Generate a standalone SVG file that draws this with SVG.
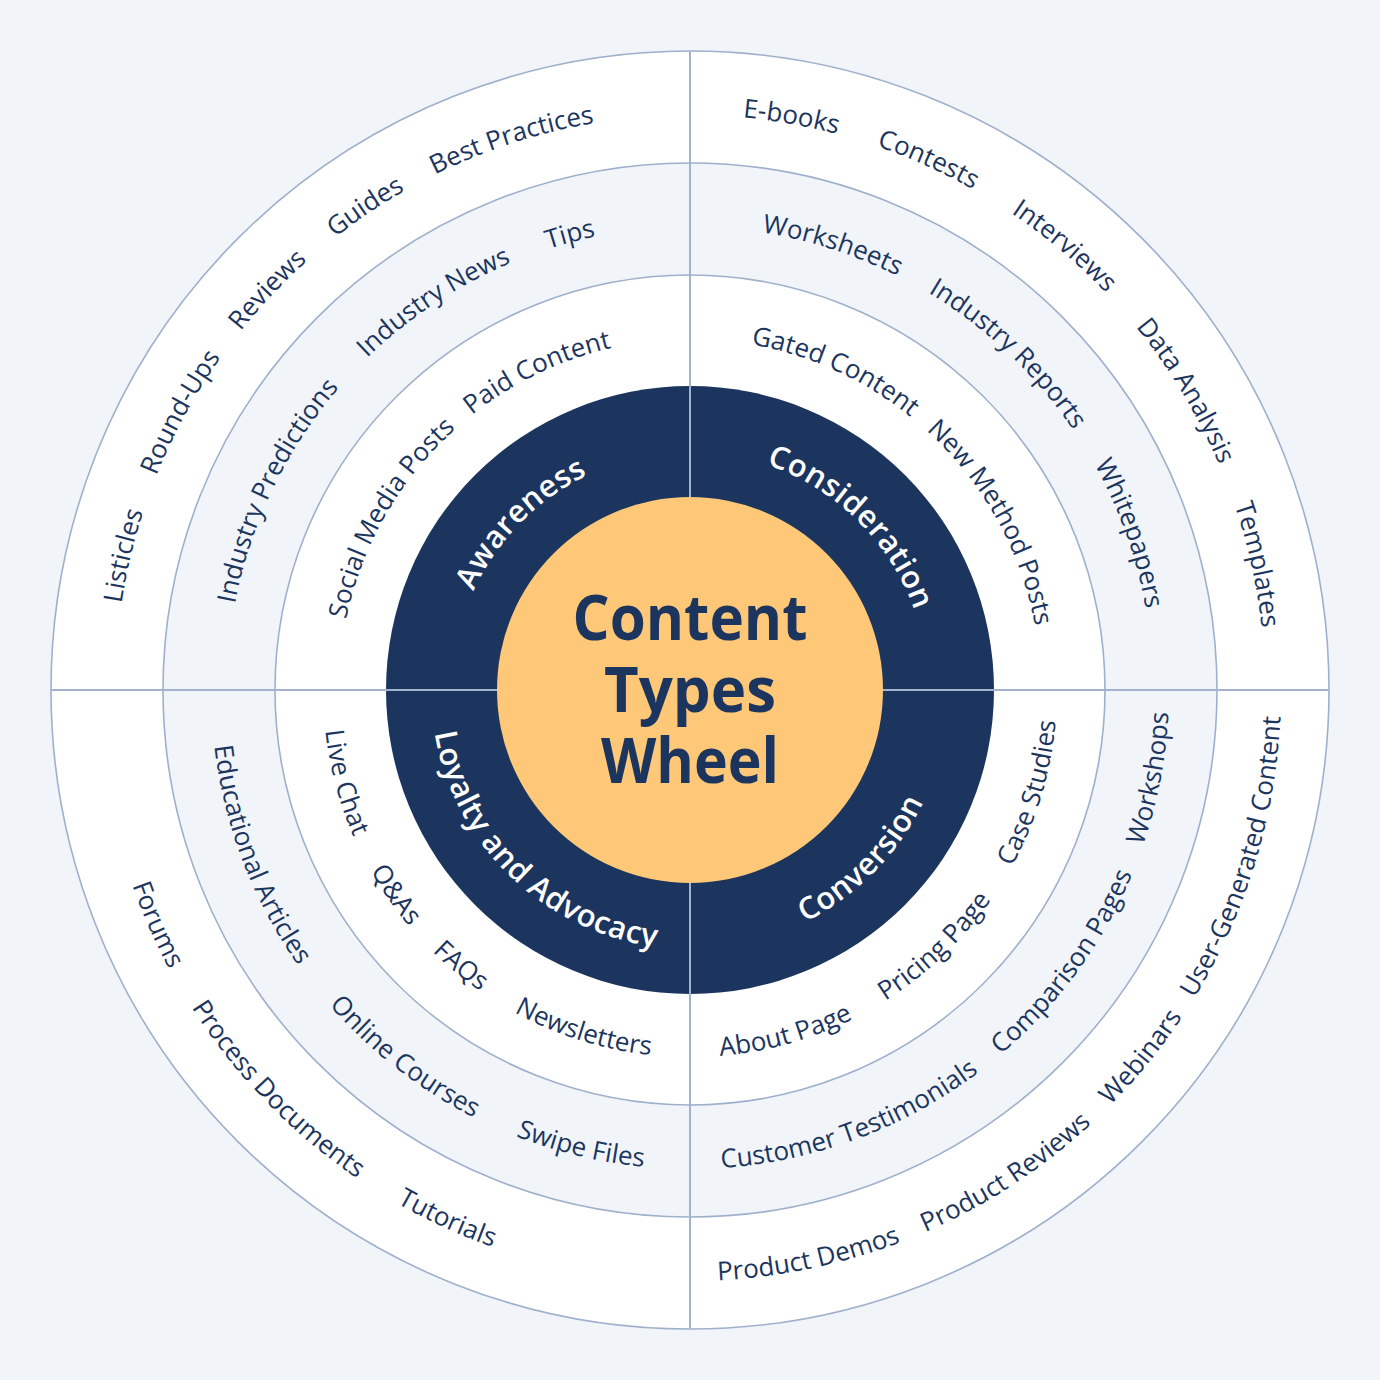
<svg xmlns="http://www.w3.org/2000/svg" width="1380" height="1380" viewBox="0 0 1380 1380">
<style>
.ring{stroke:#9fb0cc;stroke-width:1.6}
.div{stroke:#a3b3ce;stroke-width:2}
.lbl{font-family:"Open Sans","Noto Sans","Liberation Sans",sans-serif;font-size:26px;fill:#1c355e;text-anchor:middle}
.stage{font-family:"Open Sans","Noto Sans","Liberation Sans",sans-serif;font-size:31px;font-weight:600;fill:#ffffff;text-anchor:middle;letter-spacing:0.4px}
.title{font-family:"Open Sans","Noto Sans","Liberation Sans",sans-serif;font-size:63px;font-weight:700;fill:#1c355e;text-anchor:middle}
</style>
<defs>
<path id="tOuter" d="M115,690 A575,575 0 1 1 1265,690 A575,575 0 1 1 115,690"/>
<path id="tMid" d="M227,690 A463,463 0 1 1 1153,690 A463,463 0 1 1 227,690"/>
<path id="tIn" d="M339,690 A351,351 0 1 1 1041,690 A351,351 0 1 1 339,690"/>
<path id="tDark" d="M452,690 A238,238 0 1 1 928,690 A238,238 0 1 1 452,690"/>
<path id="bOuter" d="M99,690 A591,591 0 1 0 1281,690 A591,591 0 1 0 99,690"/>
<path id="bMid" d="M211,690 A479,479 0 1 0 1169,690 A479,479 0 1 0 211,690"/>
<path id="bIn" d="M323,690 A367,367 0 1 0 1057,690 A367,367 0 1 0 323,690"/>
<path id="bDark" d="M431,690 A259,259 0 1 0 949,690 A259,259 0 1 0 431,690"/>
</defs>
<rect x="0" y="0" width="1380" height="1380" fill="#f1f5f9"/>
<g id="rings">
<circle cx="690" cy="690" r="639" fill="#ffffff" class="ring"/>
<circle cx="690" cy="690" r="527" fill="#f1f5f9" class="ring"/>
<circle cx="690" cy="690" r="415" fill="#ffffff" class="ring"/>
<circle cx="690" cy="690" r="304" fill="#1c355e"/>
</g>
<g id="connectors">
<line x1="51" y1="690" x2="1329" y2="690" class="div"/>
<line x1="690" y1="51" x2="690" y2="1329" class="div"/>
</g>
<g id="center">
<circle cx="690" cy="690" r="193" fill="#fec878"/>
<text class="title" x="690" y="640" textLength="235" lengthAdjust="spacingAndGlyphs">Content</text>
<text class="title" x="690" y="712" textLength="172" lengthAdjust="spacingAndGlyphs">Types</text>
<text class="title" x="690" y="783" textLength="178" lengthAdjust="spacingAndGlyphs">Wheel</text>
</g>
<g id="awareness">
<text class="stage"><textPath href="#tDark" startOffset="185">Awareness</textPath></text>
<text class="lbl"><textPath href="#tIn" startOffset="183">Social Media Posts</textPath></text>
<text class="lbl"><textPath href="#tIn" startOffset="394">Paid Content</textPath></text>
<text class="lbl"><textPath href="#tMid" startOffset="208">Industry Predictions</textPath></text>
<text class="lbl"><textPath href="#tMid" startOffset="457">Industry News</textPath></text>
<text class="lbl"><textPath href="#tMid" startOffset="608">Tips</textPath></text>
<text class="lbl"><textPath href="#tOuter" startOffset="134">Listicles</textPath></text>
<text class="lbl"><textPath href="#tOuter" startOffset="287">Round-Ups</textPath></text>
<text class="lbl"><textPath href="#tOuter" startOffset="436">Reviews</textPath></text>
<text class="lbl"><textPath href="#tOuter" startOffset="563">Guides</textPath></text>
<text class="lbl"><textPath href="#tOuter" startOffset="723">Best Practices</textPath></text>
</g>
<g id="consideration">
<text class="stage"><textPath href="#tDark" startOffset="559">Consideration</textPath></text>
<text class="lbl"><textPath href="#tIn" startOffset="701">Gated Content</textPath></text>
<text class="lbl"><textPath href="#tIn" startOffset="924">New Method Posts</textPath></text>
<text class="lbl"><textPath href="#tMid" startOffset="871">Worksheets</textPath></text>
<text class="lbl"><textPath href="#tMid" startOffset="1078">Industry Reports</textPath></text>
<text class="lbl"><textPath href="#tMid" startOffset="1296">Whitepapers</textPath></text>
<text class="lbl"><textPath href="#tOuter" startOffset="1004">E-books</textPath></text>
<text class="lbl"><textPath href="#tOuter" startOffset="1146">Contests</textPath></text>
<text class="lbl"><textPath href="#tOuter" startOffset="1306">Interviews</textPath></text>
<text class="lbl"><textPath href="#tOuter" startOffset="1494">Data Analysis</textPath></text>
<text class="lbl"><textPath href="#tOuter" startOffset="1681">Templates</textPath></text>
</g>
<g id="conversion">
<text class="stage"><textPath href="#bDark" startOffset="612">Conversion</textPath></text>
<text class="lbl"><textPath href="#bIn" startOffset="676">About Page</textPath></text>
<text class="lbl"><textPath href="#bIn" startOffset="856">Pricing Page</textPath></text>
<text class="lbl"><textPath href="#bIn" startOffset="1045">Case Studies</textPath></text>
<text class="lbl"><textPath href="#bMid" startOffset="923">Customer Testimonials</textPath></text>
<text class="lbl"><textPath href="#bMid" startOffset="1203">Comparison Pages</textPath></text>
<text class="lbl"><textPath href="#bMid" startOffset="1414">Workshops</textPath></text>
<text class="lbl"><textPath href="#bOuter" startOffset="1050">Product Demos</textPath></text>
<text class="lbl"><textPath href="#bOuter" startOffset="1270">Product Reviews</textPath></text>
<text class="lbl"><textPath href="#bOuter" startOffset="1453">Webinars</textPath></text>
<text class="lbl"><textPath href="#bOuter" startOffset="1681">User-Generated Content</textPath></text>
</g>
<g id="loyalty">
<text class="stage"><textPath href="#bDark" startOffset="208">Loyalty and Advocacy</textPath></text>
<text class="lbl"><textPath href="#bIn" startOffset="96">Live Chat</textPath></text>
<text class="lbl"><textPath href="#bIn" startOffset="223">Q&amp;As</textPath></text>
<text class="lbl"><textPath href="#bIn" startOffset="322">FAQs</textPath></text>
<text class="lbl"><textPath href="#bIn" startOffset="465">Newsletters</textPath></text>
<text class="lbl"><textPath href="#bMid" startOffset="175">Educational Articles</textPath></text>
<text class="lbl"><textPath href="#bMid" startOffset="436">Online Courses</textPath></text>
<text class="lbl"><textPath href="#bMid" startOffset="640">Swipe Files</textPath></text>
<text class="lbl"><textPath href="#bOuter" startOffset="245">Forums</textPath></text>
<text class="lbl"><textPath href="#bOuter" startOffset="455">Process Documents</textPath></text>
<text class="lbl"><textPath href="#bOuter" startOffset="674">Tutorials</textPath></text>
</g>
</svg>
